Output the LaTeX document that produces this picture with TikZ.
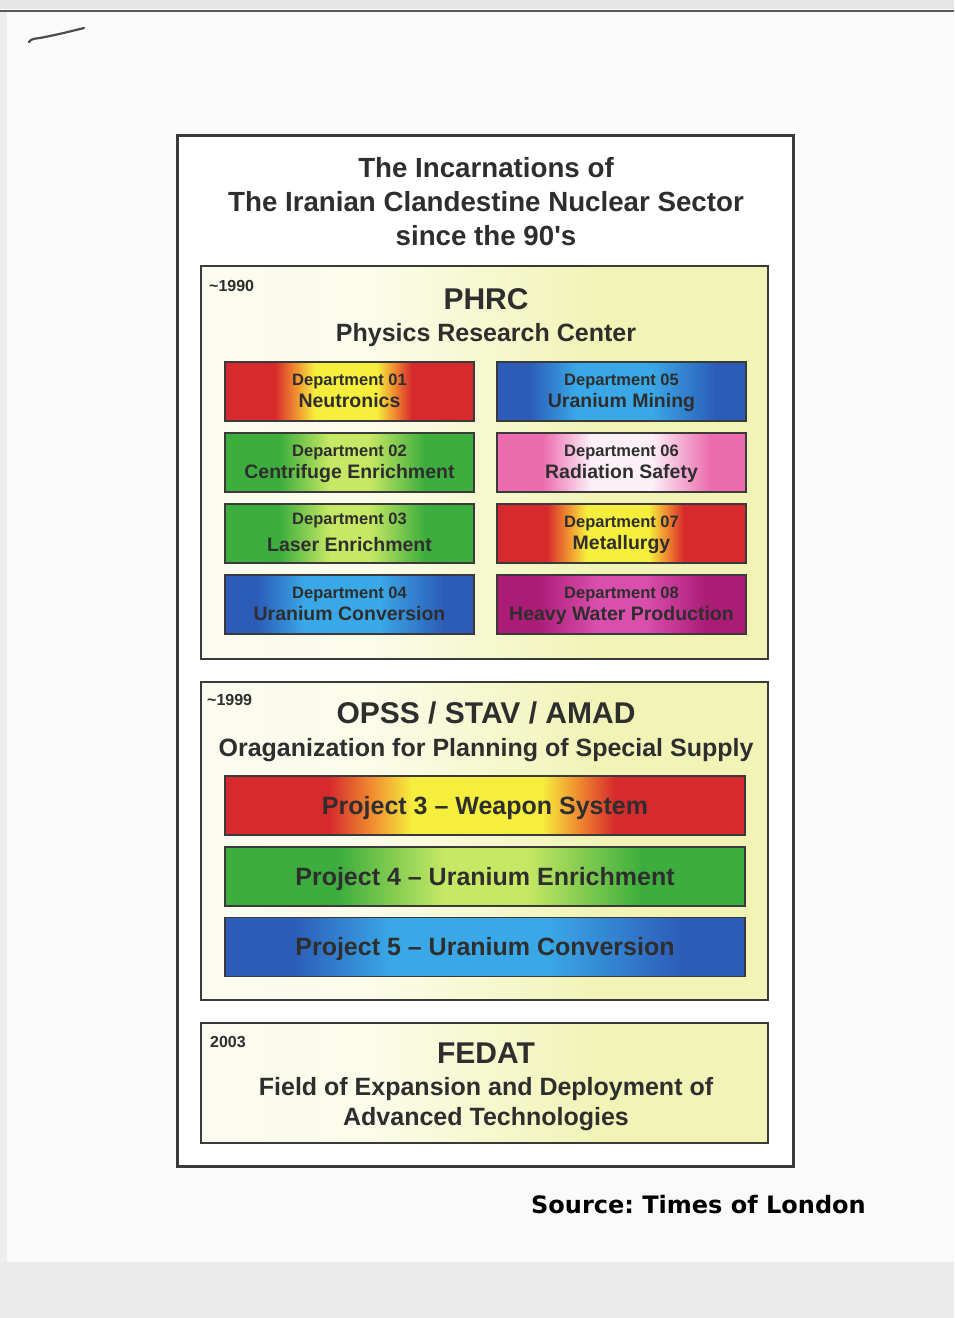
\documentclass[tikz,border=0pt]{standalone}
\usepackage{fontspec}
\setmainfont{Liberation Sans}
\newfontfamily\srcfont{DejaVu Sans}
\usetikzlibrary{calc}
\definecolor{ink}{HTML}{2E2E2E}
\definecolor{boxline}{HTML}{3A3A3A}
\definecolor{redE}{HTML}{D62A2C}
\definecolor{orgM}{HTML}{F08A30}
\definecolor{yelC}{HTML}{F6EE3C}
\definecolor{bluE}{HTML}{2C5CB8}
\definecolor{bluC}{HTML}{3AA8E6}
\definecolor{grnE}{HTML}{3DAE3D}
\definecolor{grnC}{HTML}{C6E864}
\definecolor{pnkE}{HTML}{EC6AAE}
\definecolor{pnkC}{HTML}{FCF0F7}
\definecolor{magE}{HTML}{AA1C76}
\definecolor{magC}{HTML}{DA4EAC}
\definecolor{paleL}{HTML}{FBFBF0}
\definecolor{paleR}{HTML}{F1F4B6}
% stops: box spans 25bp..75bp
\pgfdeclarehorizontalshading{redsh}{100bp}{color(0bp)=(redE); color(35bp)=(redE); color(39bp)=(orgM); color(43bp)=(yelC); color(55.5bp)=(yelC); color(59bp)=(orgM); color(62.5bp)=(redE); color(100bp)=(redE)}
\pgfdeclarehorizontalshading{blush}{100bp}{color(0bp)=(bluE); color(31.5bp)=(bluE); color(41bp)=(bluC); color(56bp)=(bluC); color(69bp)=(bluE); color(100bp)=(bluE)}
\pgfdeclarehorizontalshading{grnsh}{100bp}{color(0bp)=(grnE); color(36bp)=(grnE); color(46bp)=(grnC); color(54bp)=(grnC); color(65bp)=(grnE); color(100bp)=(grnE)}
\pgfdeclarehorizontalshading{pnksh}{100bp}{color(0bp)=(pnkE); color(34bp)=(pnkE); color(44bp)=(pnkC); color(56bp)=(pnkC); color(68bp)=(pnkE); color(100bp)=(pnkE)}
\pgfdeclarehorizontalshading{magsh}{100bp}{color(0bp)=(magE); color(33bp)=(magE); color(45bp)=(magC); color(55bp)=(magC); color(67bp)=(magE); color(100bp)=(magE)}
\pgfdeclarehorizontalshading{palesh}{100bp}{color(0bp)=(paleL); color(25bp)=(paleL); color(40bp)=(white!70!paleR); color(60bp)=(paleR); color(100bp)=(paleR)}
\tikzset{
  outerbox/.style={draw=boxline, line width=3pt, fill=white, rectangle, inner sep=0pt, outer sep=0pt},
  erabox/.style={draw=boxline, line width=2.8pt, rectangle, inner sep=0pt, outer sep=0pt, shading=palesh},
  cbox/.style={draw=boxline, line width=1.4pt, rectangle, inner sep=0pt, outer sep=0pt},
  ttl/.style={text=ink, font=\fontsize{27.7}{30}\selectfont\bfseries, inner sep=0pt, anchor=base},
  head/.style={text=ink, font=\fontsize{30}{34}\selectfont\bfseries, inner sep=0pt, anchor=base},
  sub/.style={text=ink, font=\fontsize{25}{28}\selectfont\bfseries, inner sep=0pt, anchor=base},
  year/.style={text=ink, font=\fontsize{16}{18}\selectfont\bfseries, inner sep=0pt, anchor=base west},
  dline/.style={text=ink, font=\fontsize{16.5}{18}\selectfont\bfseries, inner sep=0pt, anchor=base},
  nline/.style={text=ink, font=\fontsize{19.5}{22}\selectfont\bfseries, inner sep=0pt, anchor=base},
  pline/.style={text=ink, font=\fontsize{25}{28}\selectfont\bfseries, inner sep=0pt, anchor=base},
}
\newcommand\deptbox[8]{%
  \node[cbox, minimum width=249pt, minimum height=59pt, shading=#4] (#1) at (#2,#3) {};
  \node[dline] (#1a) at ($(#1.north)+(0,#7)$) {#5};
  \node[nline] (#1b) at ($(#1.north)+(0,#8)$) {#6};
}
\newcommand\projbar[4]{%
  \node[cbox, minimum width=520pt, minimum height=59pt, shading=#3] (#1) at (485,#2) {};
  \node[pline] (#1t) at ($(#1.north)+(0,38)$) {#4};
}
\begin{document}
\begin{tikzpicture}[x=1pt,y=-1pt]
\useasboundingbox (0,0) rectangle (954,1318);
% page scan background
\fill[white!98!black] (0,0) rectangle (954,1318);
\fill[white!90!black] (0,0) rectangle (954,9);
\draw[line width=2.5pt, white!35!black] (0,11) -- (954,11);
\fill[white!93!black] (0,12) rectangle (7,1262);
\fill[white!92!black] (0,1262) rectangle (954,1318);
\draw[line width=2.2pt, white!30!black, line cap=round] (29,42) .. controls (31,38) and (36,39) .. (45,37) .. controls (60,34) and (72,31) .. (84,28);
% outer frame
\node[outerbox, minimum width=616pt, minimum height=1031pt] (outer) at (485,650.5) {};
\node[ttl] (t1) at (486,177) {The Incarnations of};
\node[ttl] (t2) at (486,211) {The Iranian Clandestine Nuclear Sector};
\node[ttl] (t3) at (486,245) {since the 90\textquotesingle s};
% PHRC
\node[erabox, minimum width=567pt, minimum height=393pt] (phrc) at (484.5,462.5) {};
\node[year] (y1) at (209,291) {\textasciitilde 1990};
\node[head] (phrcT) at (486,309) {PHRC};
\node[sub] (phrcS) at (486,341) {Physics Research Center};
\deptbox{d1}{349.5}{391.5}{redsh}{Department 01}{Neutronics}{23}{45}
\deptbox{d5}{621.5}{391.5}{blush}{Department 05}{Uranium Mining}{23}{45}
\deptbox{d2}{349.5}{462.5}{grnsh}{Department 02}{Centrifuge Enrichment}{23}{45}
\deptbox{d6}{621.5}{462.5}{pnksh}{Department 06}{Radiation Safety}{23}{45}
\deptbox{d3}{349.5}{533.5}{grnsh}{Department 03}{Laser Enrichment}{20}{47}
\deptbox{d7}{621.5}{533.5}{redsh}{Department 07}{Metallurgy}{23}{45}
\deptbox{d4}{349.5}{604.5}{blush}{Department 04}{Uranium Conversion}{23}{45}
\deptbox{d8}{621.5}{604.5}{magsh}{Department 08}{Heavy Water Production}{23}{45}
% OPSS
\node[erabox, minimum width=567pt, minimum height=318pt] (opss) at (484.5,841) {};
\node[year] (y2) at (207,705) {\textasciitilde 1999};
\node[head] (opssT) at (486,723) {OPSS / STAV / AMAD};
\node[sub] (opssS) at (486,756) {Oraganization for Planning of Special Supply};
\projbar{p3}{805.5}{redsh}{Project 3 -- Weapon System}
\projbar{p4}{876.5}{grnsh}{Project 4 -- Uranium Enrichment}
\projbar{p5}{947}{blush}{Project 5 -- Uranium Conversion}
% FEDAT
\node[erabox, minimum width=567pt, minimum height=120pt] (fedat) at (484.5,1083) {};
\node[year] (y3) at (210,1047) {2003};
\node[head] (fedatT) at (486,1063) {FEDAT};
\node[sub] (fedatS1) at (486,1095) {Field of Expansion and Deployment of};
\node[sub] (fedatS2) at (486,1125) {Advanced Technologies};
% source
\node[anchor=base west, inner sep=0pt, text=black, font=\srcfont\fontsize{24}{28}\selectfont\bfseries\frenchspacing] (src) at (531,1213) {Source: Times of London};
\end{tikzpicture}
\end{document}
